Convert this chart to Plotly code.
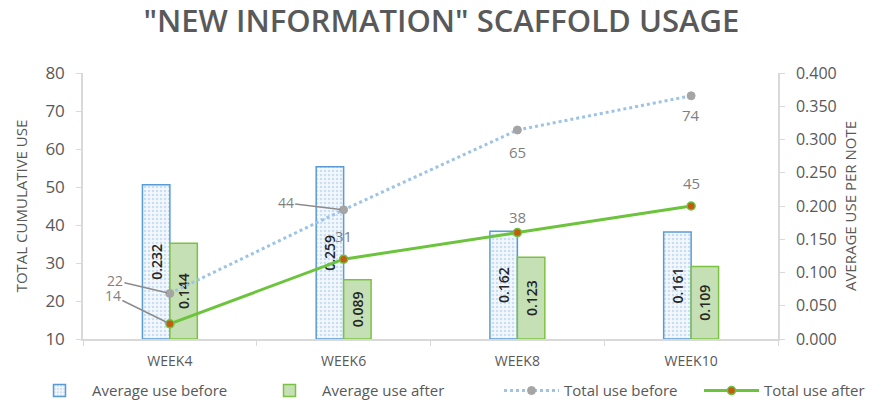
import plotly.graph_objects as go

weeks = ["WEEK4", "WEEK6", "WEEK8", "WEEK10"]
avg_before = [0.232, 0.259, 0.162, 0.161]
avg_after = [0.144, 0.089, 0.123, 0.109]
total_before = [22, 44, 65, 74]
total_after = [14, 31, 38, 45]

GREY = "#595959"
LBL = "#7F7F7F"
AXC = "#D9D9D9"
FONT = "Open Sans"

fig = go.Figure()

fig.add_trace(go.Bar(
    x=weeks, y=avg_before, name="Average use before", yaxis="y", legend="legend2",
    marker=dict(color="#EAF2FB", line=dict(color="#5B9BD5", width=1.5),
                pattern=dict(shape=".", fgcolor="#9DC3E6", bgcolor="#F4F8FD", size=4, solidity=0.35)),
    texttemplate="%{y:.3f}", textposition="inside", insidetextanchor="middle",
    textangle=-90, constraintext="none",
    textfont=dict(family=FONT, size=14, color="#262626", weight=600),
))
fig.add_trace(go.Bar(
    x=weeks, y=avg_after, name="Average use after", yaxis="y", legend="legend3",
    marker=dict(color="#C5E0B4", line=dict(color="#7CC242", width=1.5)),
    texttemplate="%{y:.3f}", textposition="inside", insidetextanchor="middle",
    textangle=-90, constraintext="none",
    textfont=dict(family=FONT, size=14, color="#262626", weight=600),
))
fig.add_trace(go.Scatter(
    x=weeks, y=total_before, name="Total use before", yaxis="y2", legend="legend4",
    mode="lines+markers",
    line=dict(color="#9DC3E6", width=3, dash="dot"),
    marker=dict(color="#A5A5A5", size=8, line=dict(color="#A5A5A5", width=1)),
))
fig.add_trace(go.Scatter(
    x=weeks, y=total_after, name="Total use after", yaxis="y2", legend="legend5",
    mode="lines+markers",
    line=dict(color="#6CC33C", width=3),
    marker=dict(color="#C55A11", size=8, line=dict(color="#6CC33C", width=1.5)),
))

# data labels for the line series: (ax, ay, leader line)
before_lbl = [(-55, -13, True), (-58, -7, True), (0, 22, False), (0, 19, False)]
after_lbl = [(-57, -28, True), (0, -23, False), (0, -16, False), (0, -23, False)]
for vals, spec in ((total_before, before_lbl), (total_after, after_lbl)):
    for i, (ax, ay, leader) in enumerate(spec):
        if leader:
            fig.add_annotation(x=weeks[i], y=vals[i], xref="x", yref="y2",
                               text=str(vals[i]), showarrow=True, arrowhead=0,
                               arrowwidth=1.5, arrowcolor="#8C8C8C", ax=ax, ay=ay,
                               standoff=3, font=dict(family=FONT, size=14, color=LBL))
        else:
            fig.add_annotation(x=weeks[i], y=vals[i], xref="x", yref="y2",
                               text=str(vals[i]), showarrow=False, yshift=-ay,
                               font=dict(family=FONT, size=15, color=LBL))

legend_x = [27, 257, 499, 699]
leg_common = dict(orientation="h", xref="container", xanchor="left",
                  y=0.035, yref="container", yanchor="middle",
                  font=dict(family=FONT, size=15, color=GREY),
                  itemwidth=55, bgcolor="rgba(0,0,0,0)")

fig.update_layout(
    width=874, height=405,
    margin=dict(l=83, r=96, t=73, b=66),
    paper_bgcolor="white", plot_bgcolor="white",
    font=dict(family=FONT, color=GREY),
    title=dict(text='"NEW INFORMATION" SCAFFOLD USAGE', x=0.505, xanchor="center",
               y=0.949, yanchor="middle",
               font=dict(family=FONT, size=31, color=GREY, weight=600)),
    barmode="group", bargap=0.684, bargroupgap=0,
    xaxis=dict(type="category", showline=True, linecolor=AXC, linewidth=1.5,
               ticks="outside", tickson="boundaries", ticklen=5, tickcolor=AXC,
               tickfont=dict(family=FONT, size=14, color=GREY), showgrid=False,
               ticklabelstandoff=8, automargin=False),
    yaxis=dict(side="right", range=[0, 0.4], dtick=0.05, tickformat=".3f",
               showline=True, linecolor=AXC, linewidth=1.5, ticks="outside",
               ticklen=5, tickcolor=AXC, showgrid=False, zeroline=False,
               tickfont=dict(family=FONT, size=16, color=GREY),
               ticklabelstandoff=8, automargin=False,
               title=dict(text="AVERAGE USE PER NOTE", standoff=10,
                          font=dict(family=FONT, size=15, color=GREY))),
    yaxis2=dict(overlaying="y", side="left", range=[10, 80], dtick=10,
                showline=True, linecolor=AXC, linewidth=1.5, ticks="outside",
                ticklen=5, tickcolor=AXC, showgrid=False, zeroline=False,
                tickfont=dict(family=FONT, size=17, color=GREY),
                ticklabelstandoff=8, automargin=False,
                title=dict(text="TOTAL CUMULATIVE USE", standoff=14,
                           font=dict(family=FONT, size=15, color=GREY))),
    legend2=dict(x=legend_x[0] / 874, **leg_common),
    legend3=dict(x=legend_x[1] / 874, **leg_common),
    legend4=dict(x=legend_x[2] / 874, **leg_common),
    legend5=dict(x=legend_x[3] / 874, **leg_common),
)

fig.write_html("out.html", config={"displayModeBar": False},
               post_script="document.body.style.margin='0';document.body.style.overflow='hidden';")
